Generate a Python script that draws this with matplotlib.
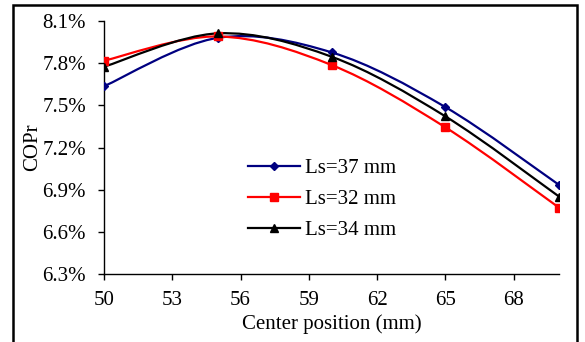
import numpy as np
import matplotlib.pyplot as plt
from matplotlib.path import Path
from matplotlib.patches import PathPatch, Rectangle
from matplotlib.lines import Line2D

plt.rcParams['font.family'] = ['Liberation Serif', 'DejaVu Serif']

# centre position of the magnet (mm) and refrigeration COP (%)
center_pos = [50, 55, 60, 65, 70]
copr_37 = [7.636, 7.980, 7.877, 7.488, 6.934]
copr_32 = [7.818, 7.990, 7.787, 7.344, 6.772]
copr_34 = [7.775, 8.012, 7.846, 7.422, 6.851]

y_ticks = [6.3, 6.6, 6.9, 7.2, 7.5, 7.8, 8.1]
x_ticks = [50, 53, 56, 59, 62, 65, 68]


def smooth_path(x, y):
    # spreadsheet-style smoothed line: cubic Bezier through every point
    pts = np.column_stack([x, y]).astype(float)
    n = len(pts)
    verts = [pts[0]]
    codes = [Path.MOVETO]
    for i in range(n - 1):
        p0 = pts[max(i - 1, 0)]
        p1 = pts[i]
        p2 = pts[i + 1]
        p3 = pts[min(i + 2, n - 1)]
        c1 = p1 + (p2 - p0) / 6.0
        c2 = p2 - (p3 - p1) / 6.0
        verts += [c1, c2, p2]
        codes += [Path.CURVE4] * 3
    return Path(verts, codes)


series = [
    ('Ls=37 mm', copr_37, '#000080', 'D', 4),
    ('Ls=32 mm', copr_32, '#ff0000', 's', 5.5),
    ('Ls=34 mm', copr_34, '#000000', '^', 5.5),
]

fig = plt.figure(figsize=(5.85, 3.42), dpi=100)
ax = fig.add_axes([0.1778, 0.1988, 0.7778, 0.7398])

handles = []
for label, vals, color, marker, ms in series:
    ax.add_patch(PathPatch(smooth_path(center_pos, vals), fill=False,
                           edgecolor=color, lw=1.6, zorder=2))
    ax.plot(center_pos, vals, linestyle='none', marker=marker, ms=ms,
            color=color, zorder=3)
    handles.append(Line2D([], [], color=color, lw=1.6, marker=marker,
                          ms=ms, label=label))

ax.set_xlim(50, 70)
ax.set_ylim(6.3, 8.1)
ax.set_xticks(x_ticks)
ax.set_yticks(y_ticks)
ax.set_yticklabels(['%.1f%%' % v for v in y_ticks])
ax.tick_params(direction='out', length=4, width=1, labelsize=15)
ax.tick_params(axis='x', pad=8)
ax.tick_params(axis='y', pad=9)
for side in ['top', 'right']:
    ax.spines[side].set_visible(False)
for side in ['left', 'bottom']:
    ax.spines[side].set_linewidth(1)

ax.set_xlabel('Center position (mm)', fontsize=15, labelpad=3)
ax.set_ylabel('COPr', fontsize=15, labelpad=0)

ax.legend(handles=handles, loc='upper left', bbox_to_anchor=(0.392, 0.591),
          bbox_transform=fig.transFigure, frameon=False, fontsize=15,
          handlelength=2.5, handletextpad=0.25, labelspacing=0.55)

# outer frame around the figure
fig.patches.append(Rectangle((13 / 585, -0.05), 564 / 585, 1.05 - 5 / 342,
                             transform=fig.transFigure, fill=False,
                             edgecolor='black', lw=1.8, clip_on=False))

fig.savefig('out.png', dpi=100)
